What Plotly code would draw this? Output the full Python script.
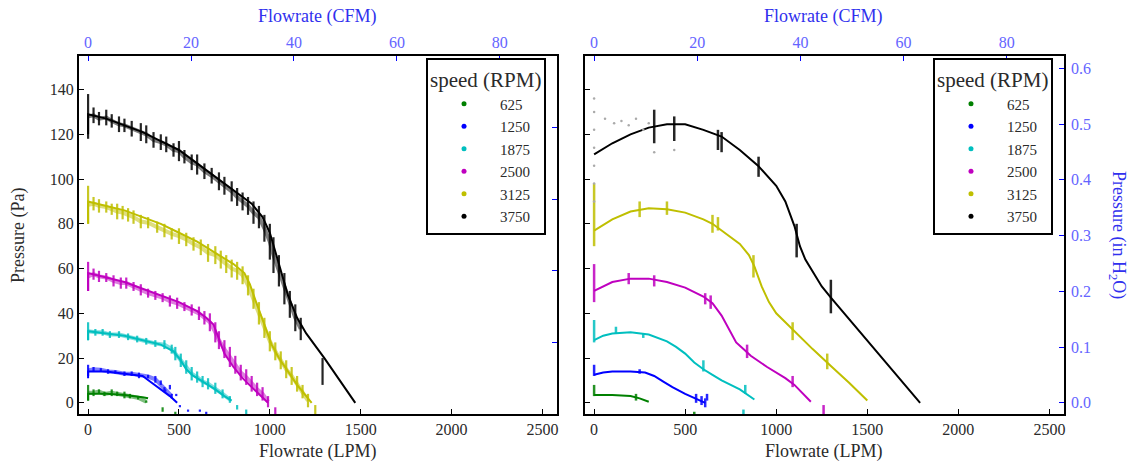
import plotly.graph_objects as go

LPM_PER_CFM = 28.3168
PA_PER_INH2O = 249.089

speeds = ["625", "1250", "1875", "2500", "3125", "3750"]
colors = ["#008000", "#0000ff", "#00bfbf", "#bf00bf", "#bfbf00", "#000000"]

# ---------- left panel: fitted curves (LPM, Pa) ----------
L_fit_x = {
    "625": [0, 0, 100, 200, 300, 330],
    "1250": [0, 0, 100, 200, 300, 350, 400, 450, 490],
    "1875": [0, 0, 100, 200, 300, 400, 470, 510, 540, 580, 640, 700, 750, 790],
    "2500": [0, 0, 100, 200, 300, 400, 500, 600, 650, 690, 720, 750, 800, 850, 900, 950, 990],
    "3125": [0, 0, 100, 200, 300, 400, 500, 600, 700, 800, 860, 890, 920, 950, 980, 1010, 1050, 1100, 1150, 1200, 1230],
    "3750": [0, 0, 100, 200, 300, 400, 500, 600, 700, 800, 900, 960, 1000, 1050, 1100, 1150, 1200, 1300, 1400, 1470],
}
L_fit_y = {
    "625": [1, 4, 4, 3.5, 2.5, 2],
    "1250": [11, 14, 14, 13, 12, 9, 6, 3, 0],
    "1875": [28, 32, 31, 30, 28, 26, 23, 19, 15, 12, 9, 6, 3, 1],
    "2500": [50, 58, 56, 54, 51, 48, 45, 41, 38, 35, 28, 22, 16, 11, 7, 3, 0],
    "3125": [80, 90, 88, 86, 83, 80, 76, 72, 67, 62, 58, 53, 46, 39, 32, 26, 20, 14, 8, 3, 0],
    "3750": [120, 129, 127, 124, 121, 117, 113, 107, 101, 95, 89, 83, 76, 62, 48, 38, 31, 20, 8, 0],
}

# ---------- left panel: measured data band, (LPM, low Pa, high Pa) ----------
L_data = {
    "625": [(0, 1, 8), (30, 3, 6), (60, 4, 6), (90, 3, 5), (130, 3, 6), (160, 3, 5), (200, 2, 5),
            (230, 2, 4), (275, 1.5, 3), (320, 0, 1)],
    "1250": [(0, 12, 17), (30, 14, 16), (70, 14, 15.5), (110, 13, 15), (150, 13, 14.5), (200, 12, 14),
             (240, 12, 14), (280, 11, 13.5), (330, 11, 12.5), (370, 9, 12), (420, 5, 7), (460, 2, 4)],
    "1875": [(0, 28, 36), (40, 30, 33), (80, 30, 33), (120, 29, 32), (170, 29, 32), (220, 28, 31),
             (270, 27, 30), (320, 26, 29), (370, 25, 28), (420, 24, 28), (460, 22, 26), (480, 19, 25),
             (510, 16, 22), (540, 13, 19), (570, 10, 16), (600, 9, 14), (630, 7, 12), (660, 6, 11),
             (700, 4, 9), (740, 2, 6), (780, 0, 3)],
    "2500": [(0, 50, 63), (30, 55, 60), (60, 54, 59), (100, 54, 58), (140, 52, 57), (180, 51, 56),
             (210, 51, 56), (250, 50, 54), (290, 48, 53), (330, 47, 51), (370, 46, 50), (410, 45, 49),
             (450, 43, 48), (490, 42, 47), (530, 41, 45), (570, 39, 44), (610, 37, 43), (640, 35, 41),
             (670, 32, 40), (700, 27, 36), (720, 24, 32), (750, 20, 28), (780, 16, 25), (810, 13, 21),
             (840, 10, 17), (870, 8, 15), (900, 5, 12), (930, 3, 9), (960, 1, 7), (990, -2, 3)],
    "3125": [(0, 80, 97), (30, 86, 92), (60, 85, 91), (100, 85, 90), (130, 84, 89), (160, 82, 89),
             (190, 82, 88), (220, 81, 87), (250, 80, 86), (290, 78, 84), (330, 78, 83), (380, 76, 81),
             (420, 74, 80), (460, 73, 78), (500, 71, 78), (540, 70, 76), (580, 68, 74), (620, 66, 73),
             (660, 63, 71), (700, 62, 70), (730, 60, 68), (760, 58, 66), (790, 56, 64), (820, 55, 63),
             (850, 53, 61), (880, 48, 57), (910, 42, 51), (940, 35, 45), (970, 29, 38), (1000, 23, 32),
             (1030, 19, 27), (1060, 15, 23), (1090, 11, 19), (1120, 8, 16), (1150, 5, 12), (1180, 2, 8),
             (1210, -2, 4)],
    "3750": [(0, 118, 138), (30, 125, 132), (60, 124, 130), (100, 124, 131), (130, 123, 129),
             (170, 121, 128), (200, 121, 127), (240, 119, 126), (290, 117, 125), (320, 116, 124),
             (360, 114, 121), (400, 113, 120), (430, 112, 119), (470, 110, 116), (500, 108, 117),
             (530, 107, 113), (570, 104, 111), (600, 102, 111), (640, 100, 107), (680, 98, 105),
             (720, 95, 103), (750, 93, 101), (790, 90, 99), (820, 88, 96), (850, 86, 94), (880, 84, 92),
             (910, 80, 90), (940, 78, 88), (970, 72, 84), (1000, 64, 80), (1020, 58, 74), (1050, 52, 66),
             (1080, 44, 58), (1110, 38, 50), (1140, 32, 44), (1170, 28, 38)],
}
# isolated measured points away from the band
L_outliers = {
    "625": [(410, -4, -2), (480, -5, -4)],
    "1250": [(400, 8, 10), (425, 5, 6), (450, 6, 8), (485, 3, 4), (505, -2, -1), (550, -4, -3),
             (615, -4, -3), (650, -5, -4)],
    "1875": [(820, -3, -1), (870, -5, -3)],
    "2500": [(1030, -5, -2)],
    "3125": [(1250, -5, -1)],
    "3750": [(1290, 8, 20)],
}

# ---------- right panel: fitted curves (LPM, Pa) ----------
R_fit_x = {
    "625": [0, 100, 200, 250, 300],
    "1250": [0, 50, 100, 200, 280, 330, 380, 430, 500, 570, 610],
    "1875": [0, 50, 100, 200, 300, 400, 450, 500, 550, 600, 650, 700, 800, 880],
    "2500": [0, 50, 100, 200, 300, 400, 500, 600, 650, 700, 740, 780, 820, 860, 950, 1050, 1100, 1150, 1190],
    "3125": [0, 100, 200, 300, 400, 500, 600, 650, 700, 800, 850, 880, 920, 960, 1000, 1050, 1100, 1200, 1300, 1400, 1500],
    "3750": [0, 100, 200, 300, 400, 500, 600, 700, 800, 900, 1000, 1050, 1100, 1130, 1160, 1200, 1250, 1300, 1400, 1500, 1600, 1700, 1790],
}
R_fit_y = {
    "625": [3.5, 3.5, 3, 2, 0.5],
    "1250": [12.5, 13.5, 14, 14, 13.5, 12, 9.5, 7, 4, 1.5, 0],
    "1875": [28, 30, 31, 31.5, 30.5, 27.5, 25, 22, 18, 15, 12.5, 10, 6, 1.5],
    "2500": [50, 52, 54, 55.5, 55.5, 54, 51.5, 47.5, 44.5, 39, 33, 27, 24, 21, 16, 11, 8, 4, 0.5],
    "3125": [77, 82, 85.5, 87, 86.5, 85, 82, 80, 77, 71, 66, 61, 52, 45, 40, 36, 32, 24, 16.5, 9, 1],
    "3750": [111, 116, 120, 123, 124.5, 124.5, 122, 119, 113, 106, 97, 90, 79, 70, 64, 58.5, 52, 47, 37.5, 28, 18.5, 9, 0],
}

# ---------- right panel: measured data clusters (LPM, low Pa, high Pa) ----------
R_data = {
    "625": [(0, 3, 8), (230, 1, 4), (550, -5, -4)],
    "1250": [(0, 12, 17), (250, 13, 15), (560, 0, 4), (590, -1, 3), (610, -2, 2), (620, 1, 4)],
    "1875": [(0, 27, 37), (120, 31, 34), (270, 29, 31), (600, 14, 19), (830, 4, 8), (820, -5, -3)],
    "2500": [(0, 45, 62), (190, 53, 58), (330, 52, 57), (610, 44, 49), (640, 42, 48), (840, 20, 26),
             (1090, 7, 12), (1065, -6, -5), (1260, -6, -1)],
    "3125": [(0, 70, 98), (250, 83, 90), (400, 84, 90), (650, 76, 84), (680, 77, 83), (875, 56, 66),
             (1090, 28, 36), (1280, 15, 22)],
    "3750": [(330, 116, 131), (440, 117, 128), (680, 113, 122), (700, 112, 121), (903, 101, 110),
             (1112, 65, 80), (1300, 40, 55)],
}
R_faint_x = [0, 0, 0, 0, 0, 0, 0, 60, 110, 150, 190, 230, 270, 300, 330, 440]
R_faint_y = [90, 98, 106, 114, 122, 130, 136, 127, 125, 126, 124, 127, 122, 125, 112, 113]

lpm_ticks = [0, 500, 1000, 1500, 2000, 2500]
cfm_ticks = [0, 20, 40, 60, 80]
pa_ticks = [0, 20, 40, 60, 80, 100, 120, 140]
inh2o_ticks = [0.0, 0.1, 0.2, 0.3, 0.4, 0.5, 0.6]

X_RANGE = [-50, 2580]
Y_RANGE = [-5, 155]

FONT = "Liberation Serif"
BLUE_T = "#3030ee"
BLUE_L = "#6464ff"
TXT = "#2a2a2a"


def spikes(rows):
    xs, ys = [], []
    for x, lo, hi in rows:
        xs += [x, x, None]
        ys += [lo, hi, None]
    return xs, ys


def band(rows):
    return [r[0] for r in rows], [(r[1] + r[2]) / 2 for r in rows]


fig = go.Figure()

for s, c in zip(speeds, colors):
    # left panel
    bx, by = band(L_data[s])
    fig.add_trace(go.Scatter(x=bx, y=by, mode="lines", line=dict(color=c, width=4),
                             opacity=0.5, showlegend=False, hoverinfo="skip", xaxis="x", yaxis="y"))
    sx, sy = spikes(L_data[s] + L_outliers[s])
    fig.add_trace(go.Scatter(x=sx, y=sy, mode="lines", line=dict(color=c, width=2.2),
                             opacity=0.85, showlegend=False, hoverinfo="skip", xaxis="x", yaxis="y"))
    fig.add_trace(go.Scatter(x=L_fit_x[s], y=L_fit_y[s], mode="lines", line=dict(color=c, width=2),
                             showlegend=False, xaxis="x", yaxis="y"))
    # right panel
    sx, sy = spikes(R_data[s])
    fig.add_trace(go.Scatter(x=sx, y=sy, mode="lines", line=dict(color=c, width=2.5),
                             opacity=0.85, showlegend=False, hoverinfo="skip", xaxis="x3", yaxis="y3"))
    fig.add_trace(go.Scatter(x=R_fit_x[s], y=R_fit_y[s], mode="lines", line=dict(color=c, width=2),
                             showlegend=False, xaxis="x3", yaxis="y3"))

fig.add_trace(go.Scatter(x=R_faint_x, y=R_faint_y, mode="markers",
                         marker=dict(color="#aaaaaa", size=2.5), showlegend=False,
                         xaxis="x3", yaxis="y3"))

# empty traces so the twin (top / right) axes are drawn
for xa, ya in [("x2", "y"), ("x", "y2"), ("x4", "y3"), ("x3", "y4")]:
    fig.add_trace(go.Scatter(x=[None], y=[None], mode="markers", showlegend=False,
                             xaxis=xa, yaxis=ya, hoverinfo="skip"))

# legend entries
for s, c in zip(speeds, colors):
    fig.add_trace(go.Scatter(x=[None], y=[None], mode="markers", name=s,
                             marker=dict(color=c, size=5), legend="legend",
                             xaxis="x", yaxis="y"))
    fig.add_trace(go.Scatter(x=[None], y=[None], mode="markers", name=s,
                             marker=dict(color=c, size=5), legend="legend2",
                             xaxis="x3", yaxis="y3"))

cfm_range = [X_RANGE[0] / LPM_PER_CFM, X_RANGE[1] / LPM_PER_CFM]
inh2o_range = [Y_RANGE[0] / PA_PER_INH2O, Y_RANGE[1] / PA_PER_INH2O]

L_DOM = [0, 0.4853]
R_DOM = [0.5137, 1]

base_x = dict(range=X_RANGE, tickvals=lpm_ticks, ticks="inside", ticklen=5, tickcolor="black",
              showline=True, linecolor="black", linewidth=2, mirror=True, showgrid=False,
              zeroline=False, tickfont=dict(family=FONT, size=16, color=TXT))
base_y = dict(range=Y_RANGE, tickvals=pa_ticks, ticks="inside", ticklen=5, tickcolor="black",
              showline=True, linecolor="black", linewidth=2, mirror=True, showgrid=False,
              zeroline=False, tickfont=dict(family=FONT, size=16, color=TXT), domain=[0, 1])
top_x = dict(side="top", range=cfm_range, tickvals=cfm_ticks, ticks="inside", ticklen=5,
             tickcolor="blue", showgrid=False, zeroline=False, showline=False,
             ticklabelstandoff=4, tickfont=dict(family=FONT, size=16, color=BLUE_L))

leg = dict(title=dict(text="speed (RPM)", font=dict(family=FONT, size=21, color=TXT)),
           y=0.994, xanchor="left", yanchor="top", bgcolor="white", bordercolor="black",
           borderwidth=2, font=dict(family=FONT, size=15, color=TXT), tracegroupgap=0,
           itemwidth=62)

ann_font = dict(family=FONT, size=18, color=TXT)
ann_blue = dict(family=FONT, size=18, color=BLUE_T)

fig.update_layout(
    width=1128, height=466,
    margin=dict(l=79, r=64, t=56, b=52),
    plot_bgcolor="white", paper_bgcolor="white",
    font=dict(family=FONT, size=15, color=TXT),
    xaxis=dict(base_x, domain=L_DOM, anchor="y"),
    xaxis2=dict(top_x, overlaying="x", anchor="y"),
    yaxis=dict(base_y, anchor="x"),
    yaxis2=dict(overlaying="y", side="right", anchor="x", range=[0, 0.5],
                tickvals=[0, 0.1, 0.2, 0.3, 0.4, 0.5], showticklabels=False, ticks="inside",
                ticklen=5, tickcolor="blue", showgrid=False, zeroline=False, showline=False),
    xaxis3=dict(base_x, domain=R_DOM, anchor="y3"),
    xaxis4=dict(top_x, overlaying="x3", anchor="y3"),
    yaxis3=dict(base_y, anchor="x3", showticklabels=False),
    yaxis4=dict(overlaying="y3", side="right", anchor="x3", range=inh2o_range,
                tickvals=inh2o_ticks, tickformat=".1f", ticks="inside", ticklen=5,
                tickcolor="blue", showgrid=False, zeroline=False, showline=False,
                ticklabelstandoff=6, tickfont=dict(family=FONT, size=16, color=BLUE_L)),
    legend=dict(leg, x=0.3523),
    legend2=dict(leg, x=0.867),
    annotations=[
        dict(text="Pressure (Pa)", x=-0.062, y=0.5, xref="paper", yref="paper", textangle=-90,
             xanchor="center", yanchor="middle", showarrow=False, font=ann_font),
        dict(text="Flowrate (LPM)", x=0.2426, y=-0.106, xref="paper", yref="paper",
             xanchor="center", yanchor="middle", showarrow=False, font=ann_font),
        dict(text="Flowrate (LPM)", x=0.7563, y=-0.106, xref="paper", yref="paper",
             xanchor="center", yanchor="middle", showarrow=False, font=ann_font),
        dict(text="Flowrate (CFM)", x=0.2426, y=1.109, xref="paper", yref="paper",
             xanchor="center", yanchor="middle", showarrow=False, font=ann_blue),
        dict(text="Flowrate (CFM)", x=0.7563, y=1.109, xref="paper", yref="paper",
             xanchor="center", yanchor="middle", showarrow=False, font=ann_blue),
        dict(text="Pressure (in H<sub>2</sub>O)", x=1.0548, y=0.5, xref="paper", yref="paper",
             textangle=90, xanchor="center", yanchor="middle", showarrow=False, font=ann_blue),
    ],
)

fig.write_html("out.html", config={"displayModeBar": False},
               post_script="document.body.style.margin='0';")
